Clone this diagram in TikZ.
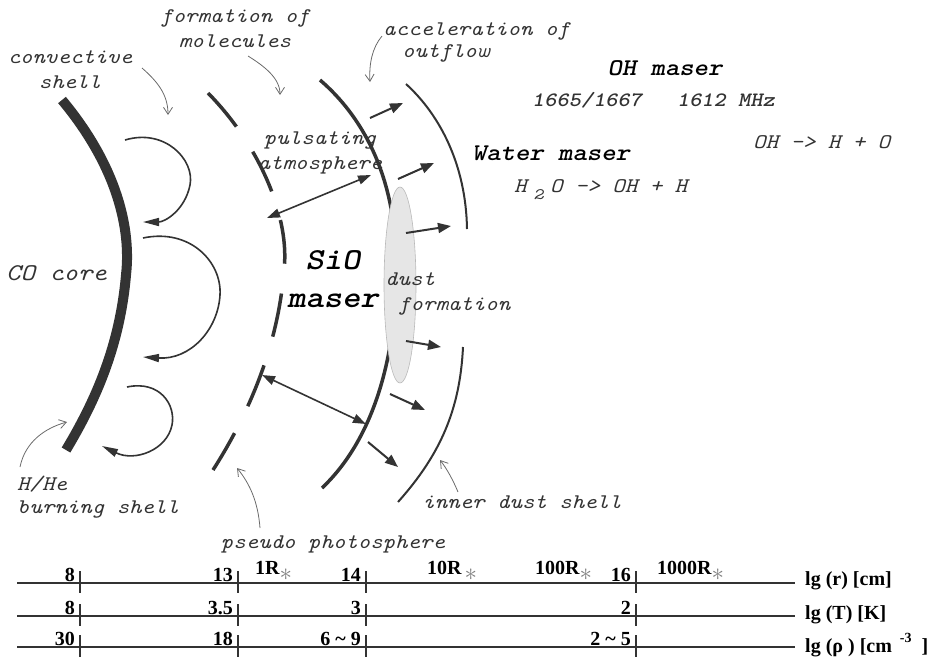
\documentclass[tikz,border=0pt]{standalone}
\usepackage{fontspec}
\setmainfont{Liberation Serif}
\setmonofont{lmmono10-regular.otf}[
  ItalicFont=lmmono10-italic.otf,
  BoldFont=lmmonolt10-bold.otf,
  BoldItalicFont=lmmonolt10-boldoblique.otf,
  FakeStretch=1.14]
\usetikzlibrary{arrows.meta}

\definecolor{ink}{HTML}{333333}
\definecolor{note}{HTML}{6A6A6A}
\definecolor{dustcol}{HTML}{E6E6E6}
\newcommand{\rstar}{\raisebox{-6pt}{\fontsize{26}{26}\selectfont\color{gray}$\ast$}}

\begin{document}
\begin{tikzpicture}[x=1pt,y=-1pt,
    lbl/.style={font=\fontsize{20.8}{25}\selectfont\ttfamily\itshape, text=ink, inner sep=0pt, align=center},
    big/.style={font=\fontsize{24}{28}\selectfont\ttfamily\bfseries\itshape, text=black, inner sep=0pt},
    callout/.style={note, line width=0.8pt, -{Straight Barb[length=7pt,width=9pt]}},
    flow/.style={ink, line width=2pt, -{Triangle[length=13pt,width=10pt]}},
    pulse/.style={ink, line width=1.6pt, {Triangle[length=13pt,width=9pt]}-{Triangle[length=13pt,width=9pt]}},
    eddy/.style={ink, line width=1.6pt, -{Triangle[length=16pt,width=8pt]}},
    ruler/.style={ink, line width=2.2pt},
    tick/.style={ink, line width=1.6pt},
    num/.style={font=\fontsize{20}{22}\selectfont\bfseries, anchor=base east, inner sep=0pt},
    radius/.style={font=\fontsize{20}{22}\selectfont\bfseries, anchor=base west, inner sep=0pt},
  ]
  \useasboundingbox (0,0) rectangle (939,657);

  % CO core
  \draw[ink, line width=10pt] (62,100) .. controls (112,160) and (132,222) .. (126,275)
                               .. controls (120,345) and (96,400) .. (66,450);

  % convection cells
  \draw[eddy] (125,140) .. controls (165,128) and (195,160) .. (190,185)
              .. controls (185,210) and (165,222) .. (143,222);
  \draw[eddy] (143,238) .. controls (190,228) and (222,262) .. (220,295)
              .. controls (218,330) and (190,360) .. (143,357);
  \draw[eddy] (127,387) .. controls (160,380) and (176,405) .. (172,425)
              .. controls (167,450) and (135,462) .. (102,446);

  % pseudo photosphere (broken shell)
  \draw[ink, line width=3.5pt, dash pattern=on 44pt off 30pt]
    (208,93) .. controls (262,148) and (290,220) .. (284,270)
             .. controls (278,350) and (245,420) .. (213,470);

  % shell where the outflow is accelerated
  \draw[ink, line width=3.5pt] (320,80) .. controls (362,116) and (395,175) .. (396,260)
                               .. controls (398,345) and (378,435) .. (322,488);

  % dust formation zone
  \draw[fill=dustcol, draw=gray!55, line width=0.6pt] (400,285) ellipse [x radius=16, y radius=98];

  % inner dust shell
  \draw[ink, line width=2pt] (406,84) .. controls (440,115) and (466,165) .. (467,229);
  \draw[ink, line width=2pt] (463,347) .. controls (460,410) and (440,455) .. (398,502);

  % outflow
  \foreach \xa/\ya/\xb/\yb in {370/118/403/103, 398/179/434/163, 406/233/451/226,
                                406/341/441/347, 390/394/425/410, 368/442/398/467}
    \draw[flow] (\xa,\ya) -- (\xb,\yb);

  % pulsation
  \draw[pulse] (267,218) -- (371,175);
  \draw[pulse] (262,375) -- (366,424);

  % labels
  \node[lbl] (conv) at (70,70) {convective\\shell};
  \node[lbl] (form) at (235,29) {formation of\\molecules};
  \node[lbl, align=left, font=\fontsize{20.8}{22}\selectfont\ttfamily\itshape, anchor=west] (accel) at (383,42)
    {acceleration of\\\hspace*{19pt}outflow};
  \node[lbl] (pulsat) at (320,153) {pulsating\\atmosphere};
  \node[lbl, font=\fontsize{24}{28}\selectfont\ttfamily\itshape, anchor=west] (core) at (6,273) {CO core};
  \node[big, font=\fontsize{30.5}{38}\selectfont\ttfamily\bfseries\itshape, align=center] (sio) at (333,279) {SiO\\maser};
  \node[lbl, align=left, anchor=west] (dustf) at (385,294) {dust\\\hspace*{13pt}formation};
  \node[lbl, align=left, font=\fontsize{20.8}{23}\selectfont\ttfamily\itshape, anchor=west] (hhe) at (17,497) {H/He\\burning shell};
  \node[lbl] (pseudo) at (333,544) {pseudo photosphere};
  \node[lbl] (idust) at (522,502) {inner dust shell};

  \node[big] (oh) at (665,68) {OH maser};
  \node[lbl, font=\fontsize{20.4}{24}\selectfont\ttfamily\bfseries\itshape, anchor=west] (freq) at (532,100)
    {1665/1667\hspace*{35pt}1612 MHz};
  \node[lbl, anchor=west] (ohdis) at (753,142) {OH -> H + O};
  \node[big] (water) at (551,153) {Water maser};
  \node[lbl, anchor=west] (h2o) at (514,190)
    {H\hspace*{7pt}\raisebox{-7pt}{\fontsize{16}{16}\selectfont 2}\hspace*{7pt}O -> OH + H};

  % callouts
  \coordinate (conv-tip) at (168,115);
  \coordinate (form-tip) at (280,95);
  \coordinate (accel-tip) at (370,82);
  \coordinate (hhe-tip) at (67,422);
  \coordinate (pseudo-tip) at (237,468);
  \coordinate (idust-tip) at (440,460);
  \draw[callout] (142,68) .. controls (158,82) and (168,95) .. (conv-tip);
  \draw[callout] (248,56) .. controls (264,66) and (280,78) .. (form-tip);
  \draw[callout] (382,36) .. controls (372,48) and (369,64) .. (accel-tip);
  \draw[callout] (20,467) .. controls (25,442) and (45,428) .. (hhe-tip);
  \draw[callout] (260,528) .. controls (258,502) and (250,484) .. (pseudo-tip);
  \draw[callout] (458,492) .. controls (453,480) and (447,469) .. (idust-tip);

  % Axes
  \draw[ruler] (17,583) -- (795,583);
  \draw[ruler] (17,616) -- (795,616);
  \draw[ruler] (17,647) -- (795,647);
  \foreach \y in {583,616,647}
    \foreach \x in {80,238,366,636}
      \draw[tick] (\x,\y-12) -- (\x,\y+10);

  % tick values
  \foreach \x/\r/\t/\d in {80/8/8/30, 238/13/3.5/18, 366/14/3/{6 \textasciitilde{} 9}, 636/16/2/{2 \textasciitilde{} 5}} {
    \node[num] (r\x) at (\x-5,581) {\r};
    \node[num] (t\x) at (\x-5,614) {\t};
    \node[num] (d\x) at (\x-5,645) {\d};
  }

  % stellar radii
  \node[radius] (r1) at (255,574) {1R\rstar};
  \node[radius] (r10) at (427,574) {10R\hspace*{3pt}\rstar};
  \node[radius] (r100) at (535,574) {100R\rstar};
  \node[radius] (r1000) at (657,574) {1000R\rstar};

  % axis names
  \node[radius] (lgr) at (805,585) {lg (r) [cm]};
  \node[radius] (lgt) at (805,619) {lg (T) [K]};
  \node[radius] (lgd) at (805,652) {lg (ρ ) [cm\hspace*{8pt}\raisebox{10pt}{\fontsize{14}{14}\selectfont -3}\hspace*{10pt}]};
\end{tikzpicture}
\end{document}
